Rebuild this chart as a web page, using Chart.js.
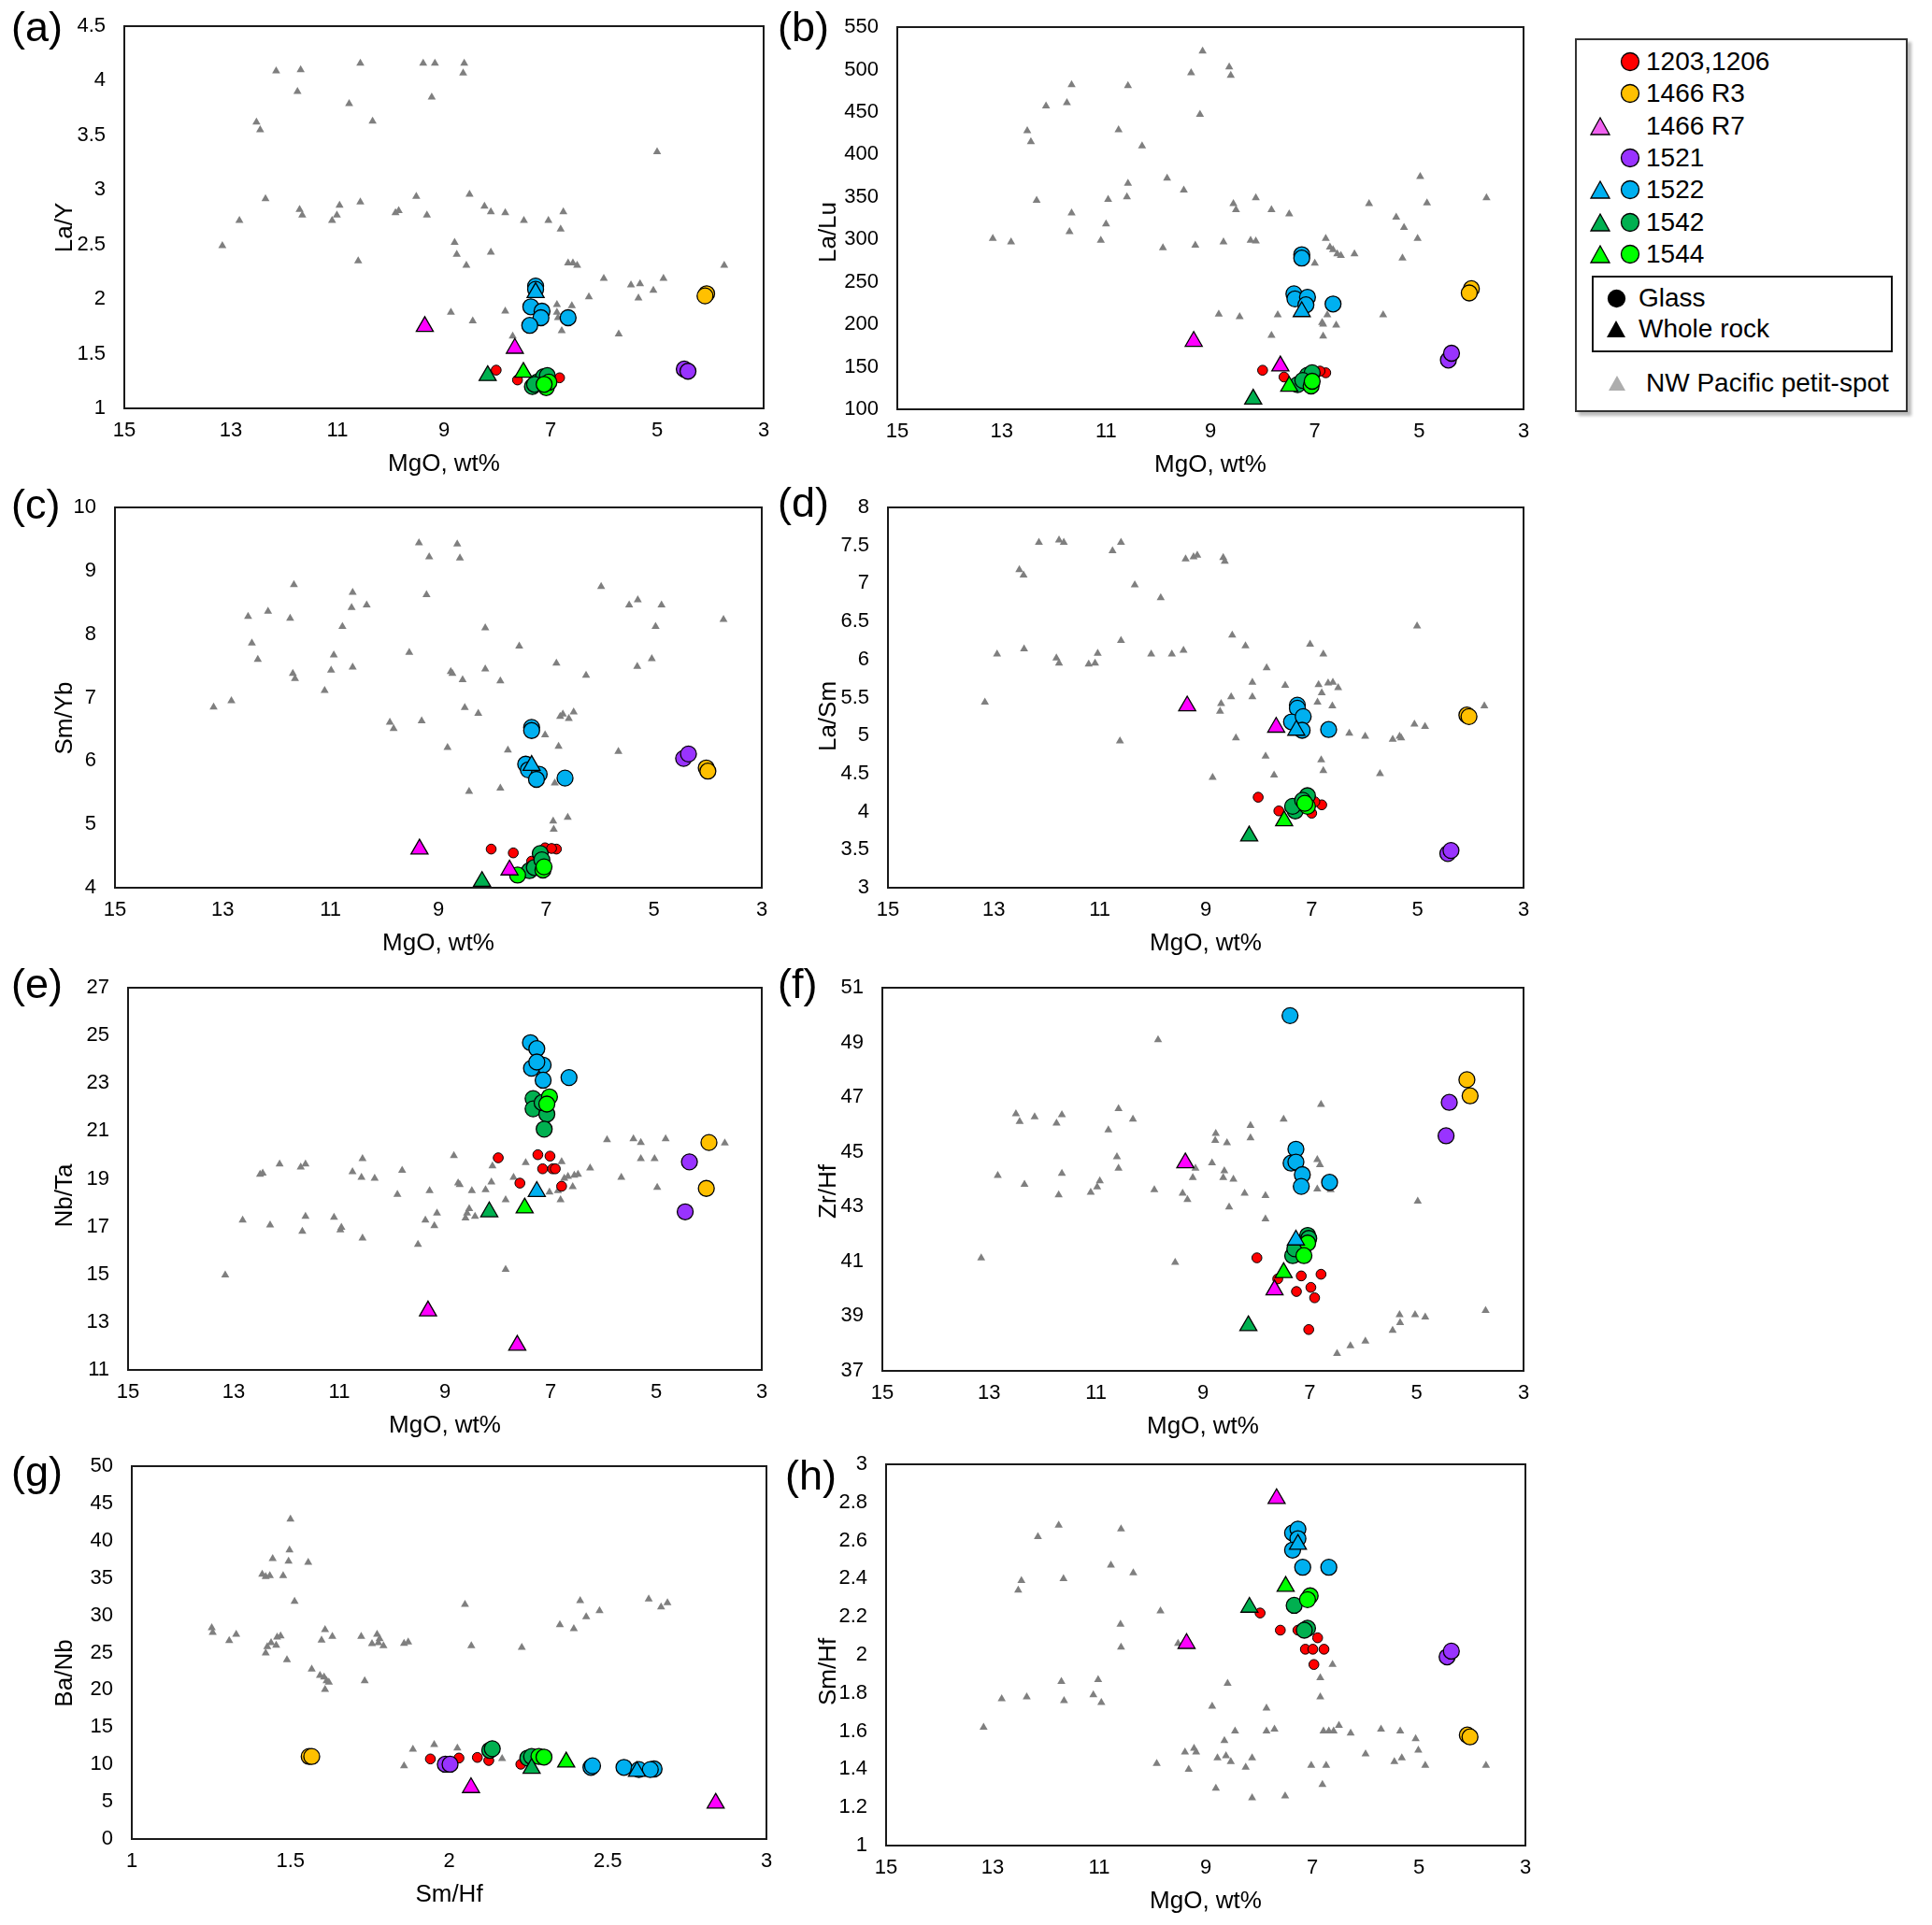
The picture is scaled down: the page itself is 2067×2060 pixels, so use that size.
<!DOCTYPE html>
<html>
<head>
<meta charset="utf-8">
<title>Petit-spot ratios vs MgO</title>
<script src="https://cdn.jsdelivr.net/npm/chart.js@4.4.1/dist/chart.umd.min.js"></script>
<style>
  body { margin: 0; background: #fff; overflow: hidden; font-family: "Liberation Sans", Arial, sans-serif; }
  #page { position: relative; width: 2067px; height: 2060px; }
  .panel { position: absolute; }
  .tag { position: absolute; font-size: 45px; line-height: 1; color: #000; }
  #legend { position: absolute; left: 1685px; top: 41px; width: 356px; height: 400px; box-sizing: border-box;
            border: 2px solid #333; background: #fff; box-shadow: 4px 4px 3px #bbb; }
  #legend .txt { position: absolute; font-size: 28px; line-height: 32px; white-space: nowrap; color: #000; }
  #legend svg { position: absolute; }
  #inner { position: absolute; left: 16px; top: 252px; width: 322px; height: 82px; box-sizing: border-box; border: 2px solid #111; }
</style>
</head>
<body>
<div id="page"></div>

<script>
// ---- data: [MgO (or Sm/Hf), ratio] ----
// (a) La/Y
const A_SPOT = [[12.15,4.09],[11.69,4.10],[11.75,3.90],[10.57,4.16],[10.78,3.79],[10.34,3.63],[9.39,4.16],[9.17,4.16],[8.62,4.16],[8.64,4.07],[9.23,3.85],[12.52,3.62],[12.45,3.55],[12.35,2.92],[12.84,2.72],[13.16,2.49],[11.71,2.82],[11.66,2.77],[10.96,2.86],[11.01,2.77],[11.10,2.72],[10.57,2.89],[10.61,2.35],[9.91,2.79],[9.85,2.81],[9.52,2.94],[9.32,2.77],[8.52,2.96],[8.24,2.85],[8.12,2.80],[7.85,2.79],[7.50,2.72],[7.04,2.72],[6.76,2.80],[6.81,2.64],[8.80,2.52],[8.76,2.41],[8.58,2.31],[8.12,2.43],[8.87,1.88],[8.46,1.80],[7.85,1.89],[7.71,1.66],[6.88,1.95],[6.88,1.88],[6.79,1.71],[6.86,1.83],[6.67,2.33],[6.58,2.33],[6.50,2.31],[6.60,1.94],[6.28,2.02],[6.00,2.19],[5.49,2.13],[5.32,2.14],[5.35,2.01],[5.07,2.08],[4.88,2.19],[5.00,3.35],[5.72,1.68],[3.74,2.31]];
const A_1203 = [[8.02,1.35],[7.62,1.26],[6.83,1.28],[7.10,1.29]];
const A_R3 = [[4.07,2.05],[4.10,2.03]];
const A_R7 = [[9.36,1.75],[7.67,1.55]];
const A_1521 = [[4.49,1.36],[4.42,1.34]];
const A_1522G = [[7.28,2.12],[7.28,2.09],[7.37,1.93],[7.16,1.89],[7.18,1.83],[7.39,1.76],[6.67,1.83]];
const A_1522W = [[7.28,2.06]];
const A_1542G = [[7.34,1.20],[7.25,1.24],[7.13,1.29],[7.06,1.30],[7.30,1.22]];
const A_1542W = [[8.18,1.30]];
const A_1544G = [[7.08,1.19],[7.03,1.24],[7.12,1.22]];
const A_1544W = [[7.51,1.33]];

// (b) La/Lu
const B_SPOT = [[9.15,521.7],[8.64,503],[8.61,493],[9.37,496],[11.66,482],[10.58,481],[11.75,461],[12.15,457],[9.20,447],[12.51,428],[12.44,415],[10.76,429],[10.31,410],[9.83,372],[9.51,358],[10.58,366],[10.60,350],[10.96,347],[12.33,346],[11.66,331],[11.70,309],[11.00,318],[11.10,299],[13.17,301],[12.82,297],[9.91,290],[9.29,293],[8.75,297],[8.23,299],[8.13,298],[8.13,349],[8.56,342],[8.51,335],[7.83,335],[7.49,330],[6.79,301],[6.71,291],[6.65,288],[6.57,283],[6.50,281],[6.24,283],[7.00,272],[5.96,342],[5.44,326],[5.29,314],[5.03,301],[5.32,278],[4.98,374],[4.85,343],[3.71,349],[8.84,212],[8.44,209],[7.71,211],[6.76,211],[6.86,202],[6.84,200],[6.59,199],[7.83,187],[6.84,186],[5.69,211]];
const B_1203 = [[8.00,146],[7.59,138],[6.79,143],[6.90,145]];
const B_R3 = [[4.00,242],[4.04,237]];
const B_R7 = [[9.32,180],[7.66,151]];
const B_1521 = [[4.44,158],[4.38,166]];
const B_1522G = [[7.25,282],[7.25,278],[7.40,236],[7.38,230],[7.14,232],[7.17,223],[6.65,224]];
const B_1522W = [[7.25,215]];
const B_1542G = [[7.33,129],[7.14,140],[7.05,143],[7.23,134]];
const B_1542W = [[8.18,112]];
const B_1544G = [[7.07,127.5],[7.05,133]];
const B_1544W = [[7.49,127]];

// (c) Sm/Yb
const C_SPOT = [[9.36,9.44],[8.65,9.42],[9.17,9.22],[8.60,9.20],[9.22,8.62],[11.68,8.78],[10.59,8.66],[10.61,8.42],[10.33,8.46],[12.53,8.28],[12.16,8.36],[11.75,8.25],[10.78,8.12],[12.46,7.86],[12.35,7.60],[10.94,7.67],[10.99,7.43],[10.59,7.48],[11.70,7.38],[11.66,7.30],[11.11,7.11],[13.17,6.85],[12.84,6.95],[9.54,7.71],[8.77,7.41],[8.74,7.38],[8.55,7.28],[8.13,8.10],[8.13,7.45],[7.85,7.26],[7.50,7.81],[6.81,7.54],[6.26,7.35],[9.90,6.61],[9.83,6.51],[9.31,6.63],[8.51,6.84],[8.26,6.75],[8.83,6.21],[7.71,6.17],[7.02,6.41],[6.77,6.23],[6.74,6.70],[6.69,6.74],[6.58,6.67],[6.49,6.77],[8.43,5.52],[7.85,5.57],[6.84,5.65],[6.87,5.05],[6.86,4.92],[6.60,5.11],[5.98,8.75],[5.46,8.46],[5.30,8.54],[4.86,8.46],[4.97,8.12],[5.04,7.61],[5.31,7.49],[3.71,8.23],[5.66,6.15]];
const C_1203 = [[8.02,4.61],[7.61,4.55],[7.02,4.63],[6.81,4.61],[6.90,4.62],[7.27,4.42]];
const C_R3 = [[4.03,5.89],[4.00,5.84]];
const C_R7 = [[9.35,4.61],[7.68,4.28]];
const C_1521 = [[4.45,6.04],[4.36,6.11]];
const C_1522G = [[7.27,6.53],[7.27,6.48],[7.38,5.95],[7.33,5.86],[7.13,5.79],[7.18,5.71],[6.65,5.73]];
const C_1522W = [[7.27,5.93]];
const C_1542G = [[7.11,4.54],[7.31,4.27],[7.22,4.32],[7.08,4.44]];
const C_1542W = [[8.19,4.10]];
const C_1544G = [[7.53,4.20],[7.06,4.28],[7.04,4.33]];
const C_1544W = [];

// (d) La/Sm
const D_SPOT = [[12.15,7.54],[11.77,7.57],[11.68,7.54],[10.60,7.54],[10.76,7.43],[9.38,7.32],[9.23,7.35],[9.16,7.37],[8.67,7.34],[8.64,7.29],[12.52,7.18],[12.44,7.11],[10.34,6.98],[9.85,6.81],[8.50,6.32],[8.25,6.18],[7.03,6.20],[10.60,6.25],[12.43,6.14],[12.94,6.07],[11.82,6.02],[11.77,5.95],[11.21,5.94],[11.09,5.95],[11.04,6.08],[10.03,6.07],[9.64,6.07],[9.42,6.12],[6.78,6.07],[7.85,5.89],[8.12,5.70],[7.50,5.66],[6.87,5.67],[6.69,5.69],[6.60,5.70],[6.50,5.63],[6.81,5.56],[8.52,5.51],[8.12,5.51],[8.71,5.42],[8.73,5.32],[6.89,5.44],[6.61,5.39],[13.17,5.44],[5.01,6.44],[3.74,5.39],[5.06,5.15],[4.86,5.12],[6.29,5.03],[5.99,4.99],[5.47,4.95],[5.31,4.97],[5.34,4.99],[8.43,4.97],[10.62,4.93],[7.87,4.73],[6.82,4.68],[6.78,4.54],[7.71,4.48],[8.87,4.45],[5.71,4.50]];
const D_1203 = [[8.01,4.19],[7.62,4.01],[6.81,4.09],[6.94,4.13],[7.00,3.98]];
const D_R3 = [[4.07,5.27],[4.03,5.25]];
const D_R7 = [[9.35,5.39],[7.67,5.11]];
const D_1521 = [[4.43,3.45],[4.37,3.49]];
const D_1522G = [[7.27,5.40],[7.27,5.36],[7.38,5.18],[7.16,5.25],[7.18,5.07],[6.68,5.08]];
const D_1522W = [[7.29,5.07]];
const D_1542G = [[7.08,4.21],[7.31,4.01],[7.36,4.07],[7.17,4.15]];
const D_1542W = [[8.18,3.68]];
const D_1544G = [[7.08,4.07],[7.13,4.11]];
const D_1544W = [[7.52,3.88]];

// (e) Nb/Ta
const E_SPOT = [[13.16,14.97],[12.83,17.27],[12.31,17.06],[12.50,19.19],[12.45,19.23],[12.13,19.62],[11.73,19.49],[11.64,19.62],[11.64,17.43],[11.70,16.80],[11.10,17.39],[10.96,16.97],[10.98,16.86],[10.75,19.29],[10.58,19.06],[10.56,19.84],[10.33,19.02],[10.56,16.52],[9.90,18.34],[9.81,19.35],[9.51,16.25],[9.37,17.27],[9.29,18.50],[9.20,17.03],[9.15,17.56],[8.83,19.97],[8.75,18.82],[8.72,18.76],[8.61,17.36],[8.54,17.75],[8.49,18.50],[8.43,17.43],[8.58,17.56],[8.23,18.54],[8.12,18.86],[8.10,19.54],[7.85,18.12],[7.85,15.21],[7.70,19.06],[7.47,19.67],[7.02,18.44],[6.86,18.50],[6.79,19.71],[6.81,18.12],[6.74,19.02],[6.67,19.10],[6.58,18.67],[6.55,19.15],[6.48,19.19],[6.25,19.45],[5.93,20.63],[5.66,19.06],[5.43,20.67],[5.29,20.52],[5.29,19.84],[5.03,19.84],[4.98,18.64],[4.82,20.67],[3.70,20.50]];
const E_1203 = [[7.99,19.88],[7.24,20.01],[7.01,19.95],[7.15,19.42],[6.96,19.42],[6.91,19.42],[7.58,18.82],[6.79,18.69]];
const E_R3 = [[4.00,20.52],[4.05,18.60]];
const E_R7 = [[9.32,13.47],[7.63,12.03]];
const E_1521 = [[4.37,19.71],[4.45,17.62]];
const E_1522G = [[7.38,24.70],[7.26,24.45],[7.14,23.76],[7.36,23.63],[7.26,23.89],[7.14,23.13],[6.65,23.24]];
const E_1522W = [[7.26,18.47]];
const E_1542G = [[7.33,22.36],[7.33,21.93],[7.07,21.71],[7.12,21.08],[7.16,22.19]];
const E_1542W = [[8.16,17.62]];
const E_1544G = [[7.02,22.43],[7.07,22.13]];
const E_1544W = [[7.49,17.78]];

// (f) Zr/Hf
const F_SPOT = [[9.84,49.10],[13.15,41.12],[12.84,44.14],[12.50,46.39],[12.43,46.11],[12.34,43.81],[12.15,46.28],[11.74,46.05],[11.64,46.36],[11.64,44.21],[11.70,43.43],[11.10,43.52],[10.98,43.72],[10.93,43.94],[10.77,45.80],[10.58,46.58],[10.61,44.82],[10.58,44.40],[10.31,46.19],[9.91,43.62],[9.52,40.96],[9.38,43.49],[9.29,43.26],[9.14,44.40],[9.19,44.06],[8.83,44.60],[8.76,45.67],[8.77,45.42],[8.60,44.31],[8.62,44.06],[8.55,45.33],[8.43,44.00],[8.51,42.98],[8.22,43.49],[8.11,45.96],[8.11,45.51],[7.83,43.40],[7.83,42.55],[7.49,46.19],[6.86,44.72],[6.81,44.53],[6.79,46.73],[6.86,43.64],[6.61,43.62],[4.98,43.20],[6.49,37.63],[6.24,37.91],[5.96,38.08],[5.45,38.48],[5.31,38.76],[5.32,39.05],[5.03,39.05],[4.84,38.96],[3.71,39.20]];
const F_1203 = [[7.99,41.13],[7.60,40.36],[7.16,40.47],[6.79,40.53],[7.25,39.90],[6.98,40.05],[6.91,39.67],[7.02,38.51]];
const F_R3 = [[4.06,47.64],[4.00,47.05]];
const F_R7 = [[9.33,44.60],[7.66,39.96]];
const F_1521 = [[4.39,46.81],[4.45,45.59]];
const F_1522G = [[7.37,49.98],[7.26,45.10],[7.35,44.59],[7.26,44.63],[7.14,44.17],[7.16,43.74],[6.63,43.89]];
const F_1522W = [[7.26,41.78]];
const F_1542G = [[7.04,41.95],[7.32,41.21],[7.28,41.46],[7.02,41.84]];
const F_1542W = [[8.15,38.65]];
const F_1544G = [[7.04,41.67],[7.11,41.21]];
const F_1544W = [[7.49,40.59]];

// (g) Ba/Nb vs Sm/Hf
const G_SPOT = [[1.500,42.90],[1.497,38.76],[1.494,37.26],[1.444,37.59],[1.556,37.09],[1.411,35.51],[1.422,35.17],[1.435,35.30],[1.477,35.30],[1.513,31.87],[1.252,28.32],[1.255,27.69],[1.307,26.61],[1.329,27.44],[1.427,25.77],[1.422,24.94],[1.439,26.32],[1.455,25.98],[1.458,27.07],[1.469,27.23],[1.489,24.02],[1.567,22.77],[1.598,26.65],[1.609,28.07],[1.632,27.15],[1.593,21.93],[1.606,21.72],[1.614,21.22],[1.609,20.05],[1.621,21.01],[1.734,21.22],[1.723,27.15],[1.757,26.19],[1.773,27.44],[1.781,26.86],[1.777,26.32],[1.793,25.90],[1.858,26.23],[1.871,26.40],[2.050,31.45],[2.070,25.90],[2.229,25.69],[2.349,28.74],[2.393,28.20],[2.413,31.95],[2.432,29.78],[2.474,30.62],[2.629,32.16],[2.668,31.12],[2.688,31.66],[1.858,9.82],[1.886,12.03],[1.953,12.66],[2.026,12.20],[2.167,10.78]];
const G_1203 = [[1.941,10.74],[2.031,10.86],[2.089,10.94],[2.125,10.53],[2.226,10.03]];
const G_R3 = [[1.559,11.07],[1.567,11.07]];
const G_R7 = [[2.069,6.89],[2.840,4.80]];
const G_1521 = [[1.988,10.03],[2.003,10.03]];
const G_1522G = [[2.447,9.61],[2.452,9.82],[2.551,9.61],[2.598,9.32],[2.646,9.40],[2.634,9.32]];
const G_1522W = [[2.592,9.06]];
const G_1542G = [[2.128,11.90],[2.136,12.11],[2.248,10.86],[2.260,11.07]];
const G_1542W = [[2.260,9.48]];
const G_1544G = [[2.283,11.07],[2.299,10.99]];
const G_1544W = [[2.369,10.32]];

// (h) Sm/Hf
const H_SPOT = [[11.76,2.68],[12.15,2.62],[10.59,2.66],[12.52,2.34],[12.46,2.39],[11.67,2.40],[10.78,2.47],[10.36,2.43],[9.85,2.23],[10.60,2.16],[10.59,2.04],[9.52,2.06],[13.17,1.62],[12.83,1.77],[12.36,1.78],[11.71,1.86],[11.66,1.76],[11.11,1.79],[11.02,1.87],[10.96,1.75],[8.59,1.85],[8.88,1.73],[7.86,1.72],[9.92,1.43],[9.39,1.49],[9.22,1.51],[9.18,1.49],[9.32,1.40],[8.78,1.46],[8.65,1.55],[8.62,1.47],[8.53,1.44],[8.45,1.60],[8.81,1.30],[8.25,1.41],[8.13,1.46],[8.13,1.25],[7.86,1.60],[7.71,1.61],[7.51,1.26],[7.02,1.42],[6.74,1.42],[6.81,1.32],[6.79,1.60],[6.69,1.60],[6.60,1.60],[6.50,1.63],[6.28,1.59],[6.62,1.95],[6.85,1.88],[6.85,1.78],[6.00,1.48],[5.71,1.61],[5.35,1.60],[5.06,1.56],[5.01,1.50],[5.46,1.44],[5.32,1.46],[4.88,1.42],[3.74,1.42]];
const H_1203 = [[7.98,2.22],[7.60,2.13],[7.27,2.13],[6.90,2.09],[7.13,2.03],[6.99,2.03],[6.78,2.03],[6.97,1.95]];
const H_R3 = [[4.09,1.58],[4.04,1.57]];
const H_R7 = [[7.67,2.82],[9.36,2.06]];
const H_1521 = [[4.47,1.99],[4.39,2.02]];
const H_1522G = [[7.37,2.64],[7.27,2.66],[7.27,2.61],[7.37,2.55],[7.18,2.46],[6.69,2.46]];
const H_1522W = [[7.27,2.58]];
const H_1542G = [[7.34,2.26],[7.09,2.14],[7.15,2.13]];
const H_1542W = [[8.18,2.25]];
const H_1544G = [[7.04,2.31],[7.09,2.29]];
const H_1544W = [[7.50,2.36]];

// legend entries
const LEGEND_LABELS = ['1203,1206', '1466 R3', '1466 R7', '1521', '1522', '1542', '1544'];
const LEGEND_GLASS = ['#FF0000', '#FFC000', null, '#9933FF', '#00B0F0', '#00B050', '#00FF00'];
const LEGEND_ROCK = [null, null, '#F062F0', null, '#00B0F0', '#00B050', '#00FF00'];

// ---- group the arrays per panel ----
function group(spot, s1203, r3, r7, s1521, g1522, w1522, g1542, w1542, g1544, w1544) {
  return { spot, '1203': s1203, R3: r3, R7: r7, '1521': s1521,
           '1522G': g1522, '1522W': w1522, '1542G': g1542, '1542W': w1542, '1544G': g1544, '1544W': w1544 };
}
const DATA = {
  A: group(A_SPOT, A_1203, A_R3, A_R7, A_1521, A_1522G, A_1522W, A_1542G, A_1542W, A_1544G, A_1544W),
  B: group(B_SPOT, B_1203, B_R3, B_R7, B_1521, B_1522G, B_1522W, B_1542G, B_1542W, B_1544G, B_1544W),
  C: group(C_SPOT, C_1203, C_R3, C_R7, C_1521, C_1522G, C_1522W, C_1542G, C_1542W, C_1544G, C_1544W),
  D: group(D_SPOT, D_1203, D_R3, D_R7, D_1521, D_1522G, D_1522W, D_1542G, D_1542W, D_1544G, D_1544W),
  E: group(E_SPOT, E_1203, E_R3, E_R7, E_1521, E_1522G, E_1522W, E_1542G, E_1542W, E_1544G, E_1544W),
  F: group(F_SPOT, F_1203, F_R3, F_R7, F_1521, F_1522G, F_1522W, F_1542G, F_1542W, F_1544G, F_1544W),
  G: group(G_SPOT, G_1203, G_R3, G_R7, G_1521, G_1522G, G_1522W, G_1542G, G_1542W, G_1544G, G_1544W),
  H: group(H_SPOT, H_1203, H_R3, H_R7, H_1521, H_1522G, H_1522W, H_1542G, H_1542W, H_1544G, H_1544W)
};

// ---- styles ----
const SERIES = ['spot', '1203', 'R3', '1521', '1522G', '1542G', '1544G', 'R7', '1522W', '1542W', '1544W'];
const STYLE = {
  spot:    { shape: 'triangle', r: 5, fill: '#7F7F7F', bw: 0 },
  '1203':  { shape: 'circle', r: 5.3, fill: '#FF0000', bw: 1 },
  R3:      { shape: 'circle', r: 8.5, fill: '#FFC000', bw: 1.3 },
  '1521':  { shape: 'circle', r: 8.5, fill: '#9933FF', bw: 1.3 },
  '1522G': { shape: 'circle', r: 8.5, fill: '#00B0F0', bw: 1.3 },
  '1542G': { shape: 'circle', r: 8.5, fill: '#00B050', bw: 1.3 },
  '1544G': { shape: 'circle', r: 8.5, fill: '#00FF00', bw: 1.3 },
  R7:      { shape: 'triangle', r: 10.5, fill: '#FF00FF', bw: 1.3 },
  '1522W': { shape: 'triangle', r: 10.5, fill: '#00B0F0', bw: 1.3 },
  '1542W': { shape: 'triangle', r: 10.5, fill: '#00B050', bw: 1.3 },
  '1544W': { shape: 'triangle', r: 10.5, fill: '#00FF00', bw: 1.3 }
};

// plot boxes [left, top, right, bottom] in page pixels; dy = y-title drop below plot middle
const PANELS = [
  { p: 'A', tag: '(a)', tagPos: [12, 32],    box: [133, 28, 817, 437],     y: [1, 4.5, 0.5],  yTitle: 'La/Y',  titleX: 70,  dy: 11 },
  { p: 'B', tag: '(b)', tagPos: [832, 32],   box: [960, 29, 1630, 438],    y: [100, 550, 50], yTitle: 'La/Lu', titleX: 887, dy: 15 },
  { p: 'C', tag: '(c)', tagPos: [12, 543],   box: [123, 543, 815, 950],    y: [4, 10, 1],     yTitle: 'Sm/Yb', titleX: 70,  dy: 22 },
  { p: 'D', tag: '(d)', tagPos: [832, 541],  box: [950, 543, 1630, 950],   y: [3, 8, 0.5],    yTitle: 'La/Sm', titleX: 887, dy: 20 },
  { p: 'E', tag: '(e)', tagPos: [12, 1056],  box: [137, 1057, 815, 1466],  y: [11, 27, 2],    yTitle: 'Nb/Ta', titleX: 70,  dy: 18 },
  { p: 'F', tag: '(f)', tagPos: [832, 1056], box: [944, 1057, 1630, 1467], y: [37, 51, 2],    yTitle: 'Zr/Hf', titleX: 887, dy: 13 },
  { p: 'G', tag: '(g)', tagPos: [12, 1578],  box: [141, 1569, 820, 1968],  y: [0, 50, 5],     yTitle: 'Ba/Nb', titleX: 70,  dy: 22, x: [1, 3, 0.5, false, 'Sm/Hf'] },
  { p: 'H', tag: '(h)', tagPos: [840, 1582], box: [948, 1567, 1632, 1975], y: [1, 3, 0.2],    yTitle: 'Sm/Hf', titleX: 887, dy: 18 }
];
const MGO_X = [3, 15, 2, true, 'MgO, wt%'];

const FONT = '"Liberation Sans", Arial, sans-serif';
Chart.defaults.font.family = FONT;
Chart.defaults.color = '#000';

// canvas margins round the plot box
const W = 100, PT = 36, PR = 20, H = 80;
const TICK = 22, TITLE = 26;

const frame = {
  id: 'frame',
  beforeDatasetsDraw(chart) {
    const a = chart.chartArea, ctx = chart.ctx;
    ctx.save();
    ctx.strokeStyle = '#1a1a1a';
    ctx.lineWidth = 2;
    ctx.strokeRect(a.left, a.top, a.right - a.left, a.bottom - a.top);
    ctx.restore();
  }
};

// y-axis title, sits a little below the middle of the plot like the original
const yTitle = {
  id: 'yTitle',
  afterDraw(chart, args, opts) {
    const a = chart.chartArea, ctx = chart.ctx;
    ctx.save();
    ctx.translate(opts.x, (a.top + a.bottom) / 2 + opts.dy);
    ctx.rotate(-Math.PI / 2);
    ctx.font = TITLE + 'px ' + FONT;
    ctx.fillStyle = '#000';
    ctx.textAlign = 'center';
    ctx.textBaseline = 'middle';
    ctx.fillText(opts.text, 0, 0);
    ctx.restore();
  }
};

const fmt = v => String(Math.round(v * 100) / 100);
const page = document.getElementById('page');

PANELS.forEach(cfg => {
  const [L, T, R, B] = cfg.box;
  const xs = cfg.x || MGO_X;
  const div = document.createElement('div');
  div.className = 'panel';
  div.style.left = (L - W) + 'px';
  div.style.top = (T - PT) + 'px';
  const cv = document.createElement('canvas');
  cv.width = R - L + W + PR;
  cv.height = B - T + PT + H;
  div.appendChild(cv);
  page.appendChild(div);

  const tag = document.createElement('div');
  tag.className = 'tag';
  tag.textContent = cfg.tag;
  tag.style.left = cfg.tagPos[0] + 'px';
  tag.style.top = (cfg.tagPos[1] - 26) + 'px';
  page.appendChild(tag);

  const d = DATA[cfg.p];
  const datasets = [];
  SERIES.forEach((k, i) => {
    const pts = d[k];
    if (!pts || !pts.length) return;
    const s = STYLE[k];
    datasets.push({
      label: k,
      data: pts.map(q => ({ x: q[0], y: q[1] })),
      showLine: false,
      pointStyle: s.shape,
      pointRadius: s.r,
      pointBackgroundColor: s.fill,
      pointBorderColor: s.bw ? '#000' : s.fill,
      pointBorderWidth: s.bw,
      order: SERIES.length - i,
      clip: false
    });
  });

  new Chart(cv, {
    type: 'scatter',
    data: { datasets },
    options: {
      responsive: false,
      animation: false,
      events: [],
      layout: { padding: { top: PT, right: PR, left: 0, bottom: 0 } },
      plugins: {
        legend: { display: false },
        tooltip: { enabled: false },
        yTitle: { text: cfg.yTitle, x: cfg.titleX - (L - W), dy: cfg.dy }
      },
      scales: {
        x: {
          type: 'linear', min: xs[0], max: xs[1], reverse: xs[3],
          ticks: { stepSize: xs[2], padding: 11, font: { size: TICK }, callback: fmt },
          grid: { display: false, drawTicks: false },
          border: { display: false },
          title: { display: true, text: xs[4], font: { size: TITLE, lineHeight: 1.2 }, padding: { top: 0, bottom: 5 } },
          afterFit(s) { s.height = H; }
        },
        y: {
          type: 'linear', min: cfg.y[0], max: cfg.y[1],
          ticks: { stepSize: cfg.y[2], padding: 20, font: { size: TICK }, callback: fmt },
          grid: { display: false, drawTicks: false },
          border: { display: false },
          afterFit(s) { s.width = W; }
        }
      }
    },
    plugins: [frame, yTitle]
  });
});

// ---- legend ----
function circleSvg(cx, cy, r, fill) {
  const s = Math.ceil(r * 2 + 3);
  return `<svg width="${s}" height="${s}" style="left:${cx - s / 2}px;top:${cy - s / 2}px"><circle cx="${s / 2}" cy="${s / 2}" r="${r}" fill="${fill}" stroke="#000" stroke-width="1.3"/></svg>`;
}
function triSvg(cx, cy, w, h, fill, stroke) {
  const sw = w + 4, sh = h + 4;
  const st = stroke ? `stroke="#000" stroke-width="1.3"` : '';
  return `<svg width="${sw}" height="${sh}" style="left:${cx - sw / 2}px;top:${cy - sh / 2}px"><polygon points="${sw / 2},2 ${sw - 2},${sh - 2} 2,${sh - 2}" fill="${fill}" ${st}/></svg>`;
}
let html = '';
LEGEND_LABELS.forEach((lab, i) => {
  const cy = 23 + i * 34.3;
  if (LEGEND_ROCK[i]) html += triSvg(25, cy, 20, 18, LEGEND_ROCK[i], true);
  if (LEGEND_GLASS[i]) html += circleSvg(57, cy, 9.5, LEGEND_GLASS[i]);
  html += `<div class="txt" style="left:74px;top:${cy - 16}px">${lab}</div>`;
});
html += '<div id="inner"></div>';
html += circleSvg(42, 276, 9, '#000');
html += '<div class="txt" style="left:66px;top:260px">Glass</div>';
html += triSvg(42, 309, 20, 18, '#000', false);
html += '<div class="txt" style="left:66px;top:293px">Whole rock</div>';
html += triSvg(43, 367, 18, 16, '#ADADAD', false);
html += '<div class="txt" style="left:74px;top:351px">NW Pacific petit-spot</div>';
const leg = document.createElement('div');
leg.id = 'legend';
leg.innerHTML = html;
page.appendChild(leg);
</script>
</body>
</html>
